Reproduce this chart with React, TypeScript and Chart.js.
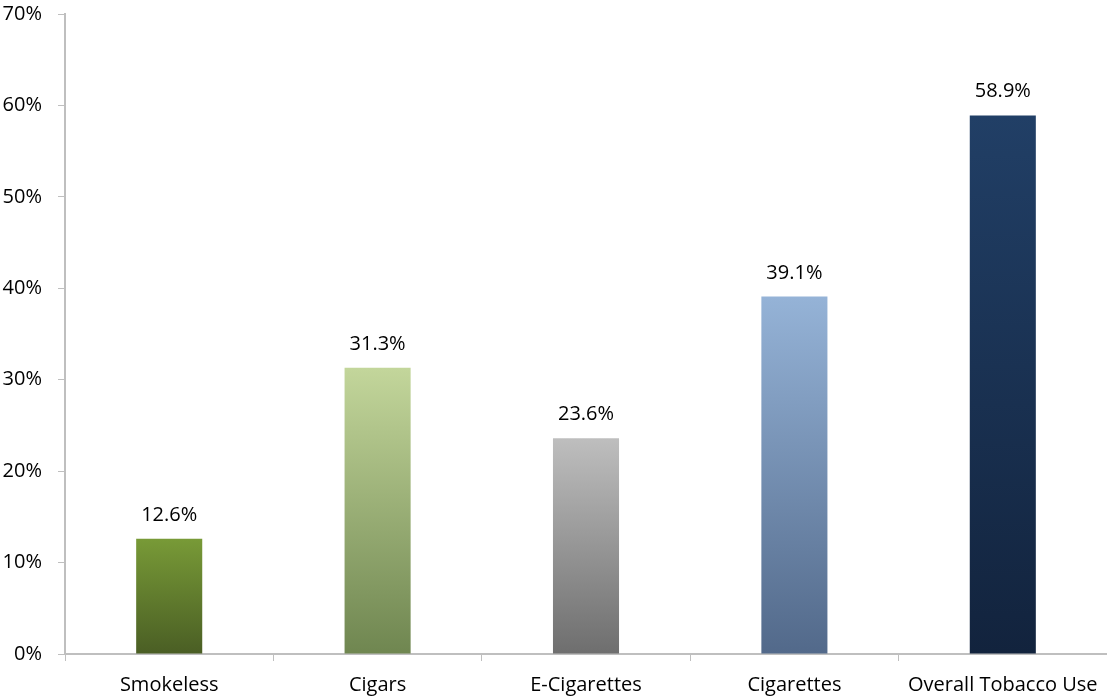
import React, { useEffect, useRef } from "react";
import { Chart, registerables } from "chart.js";

Chart.register(...registerables);

const categories = ["Smokeless", "Cigars", "E-Cigarettes", "Cigarettes", "Overall Tobacco Use"];
const values = [12.6, 31.3, 23.6, 39.1, 58.9];
const topColors = ["#789A37", "#C3D69B", "#BEBEBE", "#95B3D7", "#213F66"];
const bottomColors = ["#4A5E24", "#6F8650", "#6E6E6E", "#52698A", "#12233D"];
const yTicks = [0, 10, 20, 30, 40, 50, 60, 70];

const FONT = "'Open Sans', sans-serif";

export default function App() {
  const ref = useRef<HTMLCanvasElement | null>(null);

  useEffect(() => {
    document.body.style.margin = "0";
    const canvas = ref.current;
    if (!canvas) return;

    const labelPlugin = {
      id: "barLabels",
      afterDatasetsDraw(chart: any) {
        const ctx = chart.ctx;
        const meta = chart.getDatasetMeta(0);
        ctx.save();
        ctx.font = `20px ${FONT}`;
        ctx.fillStyle = "#000";
        ctx.textAlign = "center";
        ctx.textBaseline = "alphabetic";
        meta.data.forEach((bar: any, i: number) => {
          ctx.fillText(values[i].toFixed(1) + "%", bar.x, bar.y - 18);
        });
        ctx.restore();
      },
    };

    const chart = new Chart(canvas, {
      type: "bar",
      data: {
        labels: categories,
        datasets: [
          {
            data: values,
            barPercentage: 0.317,
            categoryPercentage: 1,
            backgroundColor: (c: any) => {
              const chart = c.chart;
              const area = chart.chartArea;
              const ys = chart.scales && chart.scales.y;
              if (!area || !ys || c.dataIndex === undefined) return topColors[c.dataIndex ?? 0];
              const i = c.dataIndex;
              const top = ys.getPixelForValue(values[i]);
              const bottom = ys.getPixelForValue(0);
              const g = chart.ctx.createLinearGradient(0, top, 0, bottom);
              g.addColorStop(0, topColors[i]);
              g.addColorStop(1, bottomColors[i]);
              return g;
            },
            borderWidth: 0,
          },
        ],
      },
      options: {
        animation: false,
        responsive: false,
        maintainAspectRatio: false,
        layout: { padding: { top: 0, right: 0, left: 0, bottom: 0 } },
        plugins: { legend: { display: false }, tooltip: { enabled: false } },
        scales: {
          x: {
            grid: {
              display: true,
              drawOnChartArea: false,
              drawTicks: true,
              tickLength: 7,
              color: "#BFBFBF",
              offset: true,
            },
            border: { display: true, color: "#BFBFBF", width: 2 },
            ticks: {
              color: "#000",
              font: { family: FONT, size: 20 },
              padding: 12,
              maxRotation: 0,
              autoSkip: false,
            },
            afterFit: (s: any) => {
              s.height = 42;
              s.paddingRight = 0;
            },
          },
          y: {
            min: 0,
            max: 70,
            afterBuildTicks: (s: any) => {
              s.ticks = yTicks.map((v) => ({ value: v }));
            },
            grid: {
              display: true,
              drawOnChartArea: false,
              drawTicks: true,
              tickLength: 7,
              color: "#BFBFBF",
            },
            border: { display: true, color: "#BFBFBF", width: 2 },
            ticks: {
              color: "#000",
              font: { family: FONT, size: 20 },
              padding: 16,
              callback: (v: any) => v + "%",
            },
            afterFit: (s: any) => {
              s.width = 65;
              s.paddingTop = 14;
            },
          },
        },
      },
      plugins: [labelPlugin],
    });

    return () => chart.destroy();
  }, []);

  return (
    <div style={{ width: 1107, height: 696 }}>
      <canvas ref={ref} width={1107} height={696} style={{ display: "block" }} />
    </div>
  );
}
